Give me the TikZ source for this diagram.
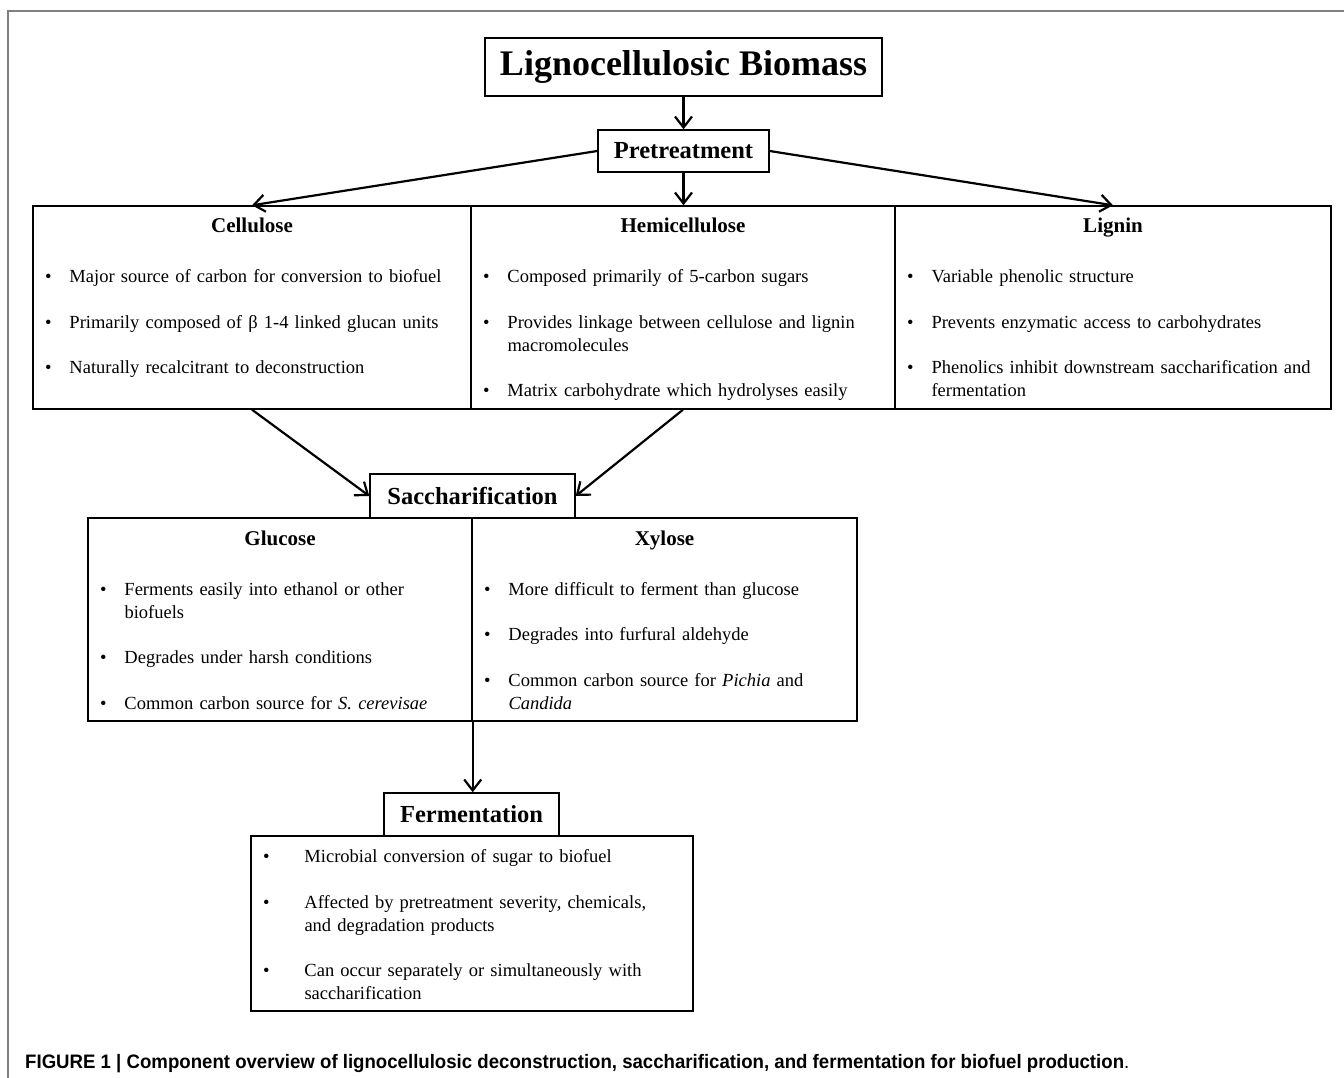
\documentclass[tikz,border=0pt]{standalone}
\usepackage{fontspec}
\setmainfont{Liberation Serif}
\newfontfamily\capfont[FakeStretch=0.955]{Liberation Sans}
\usetikzlibrary{arrows.meta}

\newlength{\bltpre}
\newlength{\bltind}
\setlength{\bltpre}{12.5pt}
\setlength{\bltind}{37pt}
\newcommand{\blt}[1]{\par\noindent\hangindent=\bltind\hangafter=1\makebox[\bltind][l]{\hspace{\bltpre}\textbullet}\strut#1\par}
\newcommand{\itemgap}{\vspace{\baselineskip}}

\begin{document}
\begin{tikzpicture}[x=1pt, y=-1pt,
    box/.style={draw, line width=1.4pt, inner sep=0pt},
    head/.style={box, font=\fontsize{24.5}{28}\selectfont\bfseries},
    title/.style={anchor=base, font=\fontsize{21}{25}\selectfont\bfseries},
    bullets/.style={anchor=north west, inner sep=0pt, text width=430pt, execute at begin node=\raggedright, font=\fontsize{18.5}{22.75}\selectfont},
    arr/.style={-{Straight Barb[length=11pt,width=17pt]}, line width=2.2pt},
    frame/.style={draw=black!50, line width=1.3pt}
]
    \useasboundingbox (0,0) rectangle (1344,1078);
    \draw[frame] (8,1078) -- (8,11) -- (1344,11);

    % Top of the chain
    \node[box, minimum width=397pt, minimum height=58pt, font=\fontsize{36}{40}\selectfont\bfseries] (biomass) at (683.5,67) {Lignocellulosic Biomass};
    \node[head, minimum width=171pt, minimum height=42pt] (pretreat) at (683.5,151) {Pretreatment};

    % Components
    \node[box, minimum width=438pt, minimum height=203pt] (cellu) at (252,307.5) {};
    \node[box, minimum width=424pt, minimum height=203pt] (hemi) at (683,307.5) {};
    \node[box, minimum width=436pt, minimum height=203pt] (lignin) at (1113,307.5) {};

    \node[title] (cellutitle) at ([yshift=-27pt]cellu.north) {Cellulose};
    \node[title] (hemititle) at ([yshift=-27pt]hemi.north) {Hemicellulose};
    \node[title] (lignintitle) at ([yshift=-27pt]lignin.north) {Lignin};

    \node[bullets] (cellulist) at ([yshift=-54.5pt]cellu.north west) {%
        \blt{Major source of carbon for conversion to biofuel}\itemgap
        \blt{Primarily composed of β 1-4 linked glucan units}\itemgap
        \blt{Naturally recalcitrant to deconstruction}};
    \node[bullets] (hemilist) at ([yshift=-54.5pt]hemi.north west) {%
        \blt{Composed primarily of 5-carbon sugars}\itemgap
        \blt{Provides linkage between cellulose and lignin\newline macromolecules}\itemgap
        \blt{Matrix carbohydrate which hydrolyses easily}};
    \node[bullets] (ligninlist) at ([yshift=-54.5pt]lignin.north west) {%
        \blt{Variable phenolic structure}\itemgap
        \blt{Prevents enzymatic access to carbohydrates}\itemgap
        \blt{Phenolics inhibit downstream saccharification and\newline fermentation}};

    % Sugars
    \node[head, minimum width=205pt, minimum height=44pt] (sacch) at (472.5,496) {Saccharification};
    \node[box, minimum width=384pt, minimum height=203pt] (gluc) at (280,619.5) {};
    \node[box, minimum width=385pt, minimum height=203pt] (xyl) at (664.5,619.5) {};

    \node[title] (glucititle) at ([yshift=-28pt]gluc.north) {Glucose};
    \node[title] (xyltitle) at ([yshift=-28pt]xyl.north) {Xylose};

    \node[bullets] (gluclist) at ([yshift=-55pt]gluc.north west) {%
        \blt{Ferments easily into ethanol or other\newline biofuels}\itemgap
        \blt{Degrades under harsh conditions}\itemgap
        \blt{Common carbon source for \textit{S. cerevisae}}};
    \node[bullets] (xyllist) at ([yshift=-55pt]xyl.north west) {%
        \blt{More difficult to ferment than glucose}\itemgap
        \blt{Degrades into furfural aldehyde}\itemgap
        \blt{Common carbon source for \textit{Pichia} and\newline \textit{Candida}}};

    % Fermentation
    \node[head, minimum width=175pt, minimum height=43pt] (ferm) at (471.5,814.5) {Fermentation};
    \node[box, minimum width=442pt, minimum height=175pt] (fermbody) at (472,923.5) {};
    \node[bullets, text width=440pt] (fermlist) at ([yshift=-4.5pt]fermbody.north west) {%
        \setlength{\bltind}{54pt}%
        \blt{Microbial conversion of sugar to biofuel}\itemgap
        \blt{Affected by pretreatment severity, chemicals,\newline and degradation products}\itemgap
        \blt{Can occur separately or simultaneously with\newline saccharification}};

    % Arrows
    \draw[arr] (biomass) -- (pretreat);
    \draw[arr] (pretreat.west) -- (cellu.north);
    \draw[arr] (pretreat.south) -- (pretreat.south |- hemi.north);
    \draw[arr] (pretreat.east) -- (lignin.north);
    \draw[arr] (cellu.south) -- (sacch.west);
    \draw[arr] (hemi.south) -- (sacch.east);
    \draw[arr] (gluc.south east) -- (gluc.south east |- ferm.north);

    % Caption
    \node[anchor=base west, inner sep=0pt, font=\capfont\fontsize{19.5}{22}\selectfont] (caption) at (25,1068)
        {\textbf{FIGURE 1 | Component overview of lignocellulosic deconstruction, saccharification, and fermentation for biofuel production}.};
\end{tikzpicture}
\end{document}
